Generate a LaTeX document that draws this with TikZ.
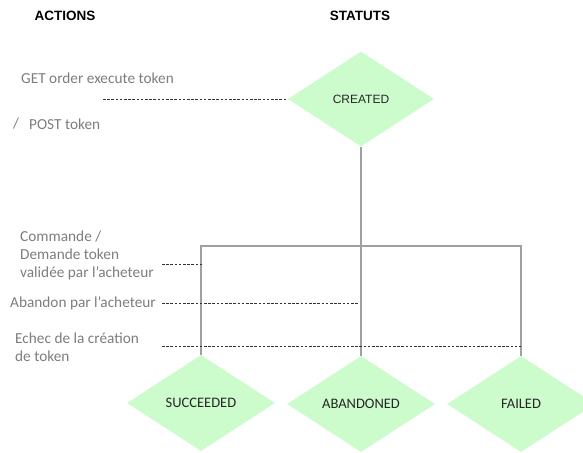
\documentclass[tikz,border=0pt]{standalone}
\usepackage{fontspec}
\setmainfont{Carlito}
\newfontfamily\arialf{Liberation Sans}
\usetikzlibrary{shapes.geometric}
\definecolor{dgreen}{RGB}{204,252,204}
\definecolor{lgray}{RGB}{160,160,160}
\definecolor{tgray}{RGB}{125,125,125}
\definecolor{dashc}{RGB}{50,50,50}
\tikzset{
  state/.style={diamond, fill=dgreen, draw=none, inner sep=0pt, minimum width=148pt, minimum height=96pt, font=\fontsize{14.5}{16}\selectfont, text=black!85},
  solidline/.style={draw=lgray, line width=2pt},
  dashline/.style={draw=dashc, line width=0.9pt, dash pattern=on 2.6pt off 1.6pt},
  actlabel/.style={anchor=west, inner sep=0pt, text=tgray, font=\fontsize{15.3}{18}\selectfont, align=left},
  header/.style={font=\arialf\bfseries\fontsize{13.5}{15}\selectfont, text=black, inner sep=0pt}
}
\begin{document}
\begin{tikzpicture}[x=1pt,y=-1pt]
\useasboundingbox (0,0) rectangle (583,452);
\node[header] (hact) at (65,16) {ACTIONS};
\node[header] (hstat) at (360,16) {STATUTS};

\node[state, minimum width=146pt, minimum height=95pt, font=\arialf\fontsize{12}{14}\selectfont] (created) at (361,99) {CREATED};
\node[state] (succ) at (201,403) {SUCCEEDED};
\node[state] (aband) at (361,404) {ABANDONED};
\node[state] (failed) at (521,404) {FAILED};

\coordinate (bar) at (361,246);
\draw[solidline] (created.south) -- (aband.north);
\draw[solidline] (succ.north) |- (bar) -| (failed.north);

\node[actlabel] (a1) at (21,78) {GET order execute token};
\node[actlabel] (a1s) at (13,124) {/};
\node[actlabel] (a1b) at (29,124) {POST token};
\node[actlabel, anchor=north west] (a2) at (20,231) {Commande /\\Demande token\\validée par l'acheteur};
\node[actlabel] (a3) at (10,303) {Abandon par l'acheteur};
\node[actlabel, anchor=north west] (a4) at (15,333) {Echec de la création\\de token};

\coordinate (d1) at (103,99);
\coordinate (d2) at (162,264);
\coordinate (d2e) at (202,264);
\coordinate (d3) at (162,303);
\coordinate (d3e) at (358,303);
\coordinate (d4) at (162,346);
\coordinate (d4e) at (521,346);
\draw[dashline] (d1) -- (created.west);
\draw[dashline] (d2) -- (d2e);
\draw[dashline] (d3) -- (d3e);
\draw[dashline] (d4) -- (d4e);
\end{tikzpicture}
\end{document}
